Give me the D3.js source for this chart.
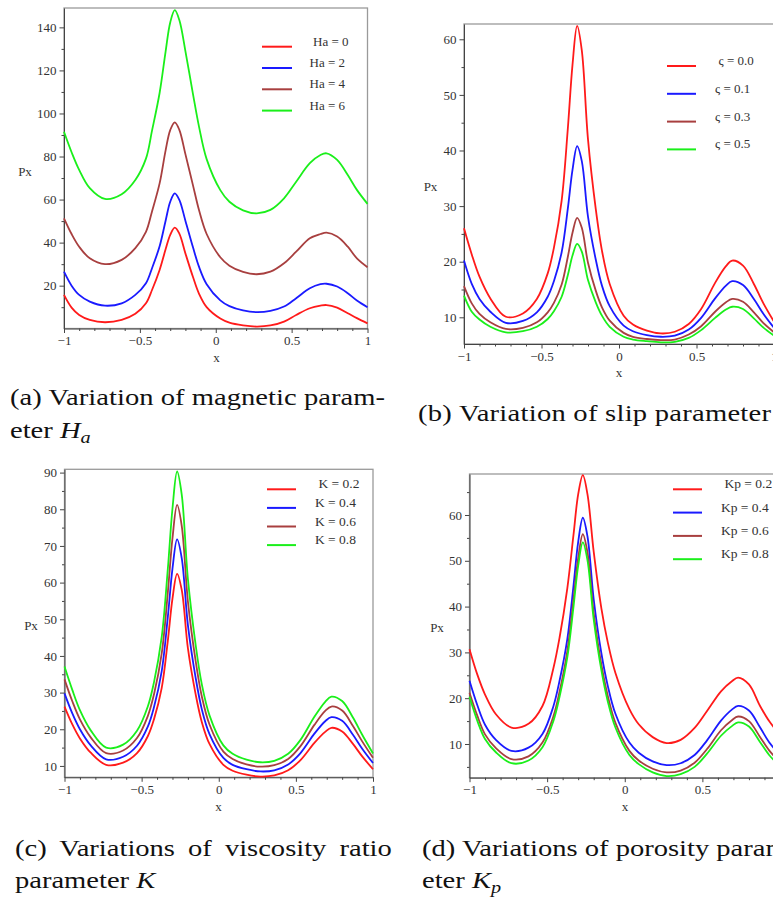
<!DOCTYPE html>
<html>
<head>
<meta charset="utf-8">
<script src="https://cdn.jsdelivr.net/npm/d3@7"></script>
<style>
  body { margin: 0; background: #fff; }
  svg { display: block; background: #fff; }
  .tick line { stroke: #444; }
  .lbl { font-family: "Liberation Serif", "Times New Roman", serif; fill: #333; }
  .cap { font-family: "Liberation Serif", "Times New Roman", serif; font-size: 24px; fill: #111; }
</style>
</head>
<body>
<svg id="chart" width="773" height="897"></svg>
<script>
// sample positions along x (same for every curve)
var xs = [-1, -0.95, -0.9, -0.83, -0.73, -0.62, -0.53, -0.46, -0.42, -0.37, -0.33, -0.3, -0.27, -0.24, -0.2, -0.15,
  -0.11, -0.06, 0.03, 0.09, 0.18, 0.27, 0.36, 0.45, 0.53, 0.62, 0.69, 0.73, 0.8, 0.87, 0.93, 1]

// (a) magnetic parameter Ha
var ha0 = [15.7, 9.8, 6.4, 4.1, 3, 4.1, 6.9, 11.8, 18, 27.3, 37, 43.6, 47, 44.2, 35, 24, 16.2, 10, 4.7, 2.8, 1.55, 1, 1.5, 3.3, 6.4, 9.5, 10.7, 11, 9.8, 7.2, 4.9, 2.5]
var ha2 = [26.5, 20, 15.7, 12.6, 10.7, 11.8, 15.7, 21.1, 28.1, 38.3, 50.3, 59, 62.9, 59.9, 50.2, 37.8, 28.7, 20.7, 13.2, 10.5, 8.5, 7.7, 8.3, 10.3, 14.2, 18.8, 20.7, 20.9, 19.6, 16.5, 13.1, 10]
var ha4 = [51.3, 44, 38.1, 32.7, 30, 32, 37.4, 45, 54.5, 67.5, 83, 92.3, 95.9, 92.4, 81.1, 66.6, 55, 44, 33.2, 29.3, 26.4, 25.3, 26.5, 30.4, 35.8, 42, 44, 44.6, 42.8, 38.1, 32.7, 28.6]
var ha6 = [91.5, 82, 73.8, 65.3, 60.3, 62.5, 69.1, 79, 92, 109.5, 129, 142.3, 148, 143.4, 129, 109, 93.8, 78.8, 64.4, 59, 55, 53.6, 55.2, 60.6, 68.3, 76.9, 80.7, 81.5, 78.4, 71.4, 64.5, 58]
var haLabels = ['Ha = 0', 'Ha = 2', 'Ha = 4', 'Ha = 6']

// (b) slip parameter
var slip00 = [26, 21.3, 17.3, 13.4, 10.1, 10.7, 13.3, 17.9, 22.5, 31, 44, 55.4, 62.4, 58, 42, 29.5, 22, 16, 10.3, 8.7, 7.6, 7.1, 7.4, 8.8, 11.5, 16.2, 19.2, 20.2, 19.3, 16, 12.6, 9.2]
var slip01 = [20.2, 16, 13.3, 11, 9, 9.35, 10.9, 13.7, 16.5, 21.7, 29.6, 36.5, 40.8, 38.1, 28.1, 20.4, 15.7, 12, 8.5, 7.5, 6.8, 6.5, 6.7, 7.8, 9.9, 13.4, 15.7, 16.5, 15.8, 13.3, 10.7, 8.1]
var slip03 = [15.6, 12.5, 10.6, 9.1, 7.9, 8.1, 9.1, 10.9, 12.6, 15.9, 20.9, 25.2, 27.9, 26.1, 19.8, 14.8, 11.8, 9.4, 7.2, 6.5, 6.1, 5.9, 6.0, 6.9, 8.4, 11.0, 12.7, 13.3, 12.8, 10.9, 9.0, 7.3]
var slip05 = [13.9, 11, 9.6, 8.3, 7.3, 7.5, 8.3, 9.7, 11.1, 13.7, 17.6, 21.1, 23.2, 21.8, 16.7, 12.7, 10.3, 8.3, 6.5, 6.0, 5.7, 5.5, 5.6, 6.3, 7.7, 9.9, 11.4, 11.9, 11.5, 9.8, 8.2, 6.7]
var slipLabels = ['\u03c2 = 0.0', '\u03c2 = 0.1', '\u03c2 = 0.3', '\u03c2 = 0.5']

// (c) viscosity ratio K
var k02 = [26.2, 21.4, 17.5, 13.6, 10.3, 10.9, 13.5, 18.1, 22.7, 31.2, 44.2, 55.6, 62.4, 58, 42.1, 29.6, 22, 16, 10.3, 8.7, 7.6, 7.1, 7.4, 8.8, 11.6, 16.3, 19.3, 20.4, 19.4, 16, 12.6, 9.1]
var k04 = [29.8, 24.4, 20, 15.6, 11.8, 12.5, 15.5, 20.7, 26, 35.8, 50.7, 63.8, 71.8, 66.7, 48.4, 34.1, 25.5, 18.7, 12.2, 10.3, 9.1, 8.5, 8.8, 10.4, 13.5, 18.8, 22.2, 23.3, 22.3, 18.5, 14.7, 10.8]
var k06 = [33.6, 27.7, 22.7, 17.8, 13.5, 14.2, 17.6, 23.6, 29.5, 40.6, 57.4, 72.1, 81.2, 75.5, 54.9, 38.7, 29, 21.3, 13.9, 11.9, 10.4, 9.8, 10.2, 11.9, 15.4, 21.2, 25, 26.2, 25.1, 20.9, 16.7, 12.2]
var k08 = [37.1, 30.8, 25.2, 19.7, 15, 15.8, 19.6, 26.2, 32.8, 45.1, 63.8, 80.2, 90.3, 84, 61, 43.1, 32.3, 23.8, 15.6, 13.3, 11.7, 11, 11.4, 13.3, 17.1, 23.4, 27.5, 28.9, 27.7, 23.2, 18.5, 13.4]
var kLabels = ['K = 0.2', 'K = 0.4', 'K = 0.6', 'K = 0.8']

// (d) porosity parameter Kp
var kp02 = [30.7, 25.2, 20.8, 16.5, 13.6, 14.4, 18.3, 26.5, 33.2, 44, 55.7, 64.5, 68.7, 64.5, 52, 39.5, 32.3, 25.5, 17.6, 14.3, 11.5, 10.2, 10.9, 13.5, 17.2, 21.5, 23.7, 24.5, 23, 18.4, 15, 12]
var kp04 = [23.8, 18.5, 14.2, 10.9, 8.5, 9.2, 12.2, 18.2, 23.8, 32.9, 44.6, 54.1, 59.4, 55.3, 41.6, 29.7, 22.8, 16.6, 10.3, 8.1, 6.2, 5.4, 5.8, 7.6, 10.8, 15.1, 17.5, 18.3, 17.3, 13.7, 10.4, 7.6]
var kp06 = [21.2, 16.2, 12.1, 9.1, 6.7, 7.3, 10.3, 16, 21.4, 30.3, 41.6, 50.6, 55.8, 51.8, 38.6, 27.2, 20.6, 14.6, 8.5, 6.4, 4.6, 3.8, 4.2, 5.9, 8.9, 13, 15.2, 16, 15, 11.6, 8.6, 6.0]
var kp08 = [20.3, 15.1, 11.1, 8.2, 5.8, 6.4, 9.3, 15, 20.3, 28.9, 40, 48.9, 54, 50.1, 37.2, 26, 19.4, 13.6, 7.6, 5.6, 3.8, 3, 3.4, 5, 7.9, 11.8, 13.9, 14.7, 13.8, 10.5, 7.6, 5.2]
var kpLabels = ['Kp = 0.2', 'Kp = 0.4', 'Kp = 0.6', 'Kp = 0.8']

// ticks
var xMajor = [-1, -0.5, 0, 0.5, 1]
var xMinor = [-0.9, -0.8, -0.7, -0.6, -0.4, -0.3, -0.2, -0.1, 0.1, 0.2, 0.3, 0.4, 0.6, 0.7, 0.8, 0.9]
var aMajor = [20, 40, 60, 80, 100, 120, 140], aMinor = [10, 30, 50, 70, 90, 110, 130]
var bMajor = [10, 20, 30, 40, 50, 60], bMinor = [15, 25, 35, 45, 55]
var cMajor = [10, 20, 30, 40, 50, 60, 70, 80, 90], cMinor = [15, 25, 35, 45, 55, 65, 75, 85]
var dMajor = [10, 20, 30, 40, 50, 60], dMinor = [5, 15, 25, 35, 45, 55, 65]

var lineColors = ['#ff1a1a', '#1a1aff', '#a83f3f', '#1aef1a']
var serif = '"Liberation Serif", "Times New Roman", serif'

var svg = d3.select('#chart')

function drawPanel(p) {
  var g = svg.append('g')
  var x = d3.scaleLinear().domain([-1, 1]).range(p.xRange)
  var y = d3.scaleLinear().domain(p.yDomain).range(p.yRange)

  // frame
  g.append('rect')
    .attr('x', p.xRange[0]).attr('y', p.yRange[1])
    .attr('width', p.xRange[1] - p.xRange[0])
    .attr('height', p.yRange[0] - p.yRange[1])
    .attr('fill', 'none').attr('stroke', '#9a9a9a').attr('stroke-width', 1.3)

  var bottom = g.append('g').attr('transform', 'translate(0,' + p.yRange[0] + ')')
  bottom.call(d3.axisBottom(x).tickValues(xMinor).tickSize(2.5).tickSizeOuter(0).tickFormat(''))
  bottom.select('.domain').remove()
  var bottomMajor = g.append('g').attr('transform', 'translate(0,' + p.yRange[0] + ')')
  bottomMajor.call(d3.axisBottom(x).tickValues(xMajor).tickSize(4.5).tickSizeOuter(0).tickPadding(3)
    .tickFormat(d3.format('')))
  bottomMajor.select('.domain').attr('stroke', '#444')

  var left = g.append('g').attr('transform', 'translate(' + p.xRange[0] + ',0)')
  left.call(d3.axisLeft(y).tickValues(p.yMinor).tickSize(2.5).tickSizeOuter(0).tickFormat(''))
  left.select('.domain').remove()
  var leftMajor = g.append('g').attr('transform', 'translate(' + p.xRange[0] + ',0)')
  leftMajor.call(d3.axisLeft(y).tickValues(p.yMajor).tickSize(4.5).tickSizeOuter(0).tickPadding(3))
  leftMajor.select('.domain').attr('stroke', '#444')

  g.selectAll('.tick text')
    .style('font-family', serif)
    .style('font-size', '13px')
    .style('fill', '#333')

  g.append('text').attr('class', 'lbl')
    .attr('x', p.pxLabel[0]).attr('y', p.pxLabel[1])
    .attr('text-anchor', 'middle').attr('font-size', 13)
    .text('Px')
  g.append('text').attr('class', 'lbl')
    .attr('x', p.xLabel[0]).attr('y', p.xLabel[1])
    .attr('text-anchor', 'middle').attr('font-size', 13)
    .text('x')

  var line = d3.line()
    .x(function(d) { return x(d[0]) })
    .y(function(d) { return y(d[1]) })
    .curve(d3.curveCatmullRom.alpha(0.5))

  p.series.forEach(function(vals, i) {
    g.append('path')
      .datum(xs.map(function(xv, j) { return [xv, vals[j]] }))
      .attr('fill', 'none')
      .attr('stroke', lineColors[i])
      .attr('stroke-width', 1.8)
      .attr('d', line)
  })

  // legend
  var leg = g.append('g')
  p.labels.forEach(function(lab, i) {
    var ly = p.legend.y0 + i * p.legend.dy
    leg.append('line')
      .attr('x1', p.legend.x1).attr('x2', p.legend.x2)
      .attr('y1', ly).attr('y2', ly)
      .attr('stroke', lineColors[i]).attr('stroke-width', 2)
    leg.append('text').attr('class', 'lbl')
      .attr('x', p.legend.tx + (i === 0 ? 3.5 : 0))
      .attr('y', ly - 1)
      .attr('font-size', p.legend.fs)
      .text(lab)
  })
}

drawPanel({
  xRange: [64, 367.5], yRange: [328.5, 8], yDomain: [0.1, 149],
  yMajor: aMajor, yMinor: aMinor,
  series: [ha0, ha2, ha4, ha6], labels: haLabels,
  pxLabel: [25, 176], xLabel: [216.5, 362],
  legend: { x1: 262, x2: 292, y0: 46.7, dy: 21.3, tx: 309.5, fs: 13 }
})
drawPanel({
  xRange: [464, 774], yRange: [344, 24], yDomain: [5.2, 62.75],
  yMajor: bMajor, yMinor: bMinor,
  series: [slip00, slip01, slip03, slip05], labels: slipLabels,
  pxLabel: [430.5, 191], xLabel: [619, 377],
  legend: { x1: 667, x2: 696, y0: 66, dy: 27.8, tx: 715, fs: 13 }
})
drawPanel({
  xRange: [64.5, 373], yRange: [777.3, 469.3], yDomain: [6.9, 90.9],
  yMajor: cMajor, yMinor: cMinor,
  series: [k02, k04, k06, k08], labels: kLabels,
  pxLabel: [31, 630], xLabel: [218.5, 810.5],
  legend: { x1: 267, x2: 296, y0: 489.3, dy: 18.6, tx: 315, fs: 13.5 }
})
drawPanel({
  xRange: [469.5, 780], yRange: [777.7, 474], yDomain: [2.64, 68.95],
  yMajor: dMajor, yMinor: dMinor,
  series: [kp02, kp04, kp06, kp08], labels: kpLabels,
  pxLabel: [437, 632], xLabel: [625, 810.5],
  legend: { x1: 673, x2: 702, y0: 489.3, dy: 23.3, tx: 721, fs: 13.5 }
})

// sub-figure captions
function caption(xp, yp, parts, width) {
  var t = svg.append('text').attr('class', 'cap')
    .attr('transform', 'translate(' + xp + ',' + yp + ') scale(1.19,1)')
  parts.forEach(function(pt) {
    var s = t.append('tspan').text(pt.t)
    if (pt.it) s.attr('font-style', 'italic')
    if (pt.sub) s.attr('font-size', 17).attr('dy', 5)
  })
  if (width) t.attr('textLength', width / 1.19).attr('lengthAdjust', 'spacing')
  return t
}
caption(10, 405, [{ t: '(a) Variation of magnetic param-' }], 375)
caption(10, 438, [{ t: 'eter ' }, { t: 'H', it: true }, { t: 'a', it: true, sub: true }])
caption(418, 421, [{ t: '(b) Variation of slip parameter' }], 353)
caption(15, 856, [{ t: '(c) Variations of viscosity ratio' }]).attr('word-spacing', 5)
caption(15, 888, [{ t: 'parameter ' }, { t: 'K', it: true }])
caption(422, 856, [{ t: '(d) Variations of porosity param-' }])
caption(422, 888, [{ t: 'eter ' }, { t: 'K', it: true }, { t: 'p', it: true, sub: true }])
</script>
</body>
</html>
